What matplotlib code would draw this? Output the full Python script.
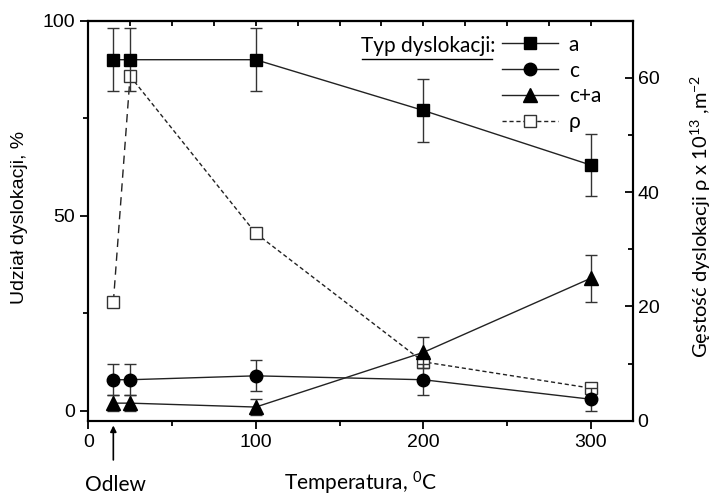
import matplotlib
matplotlib.use("Agg")
import matplotlib.pyplot as plt
from matplotlib.lines import Line2D
from matplotlib.ticker import MultipleLocator

temp = [15, 25, 100, 200, 300]

share_a = [90, 90, 90, 77, 63]
err_a = [8, 8, 8, 8, 8]
share_c = [8, 8, 9, 8, 3]
err_c = [4, 4, 4, 4, 3]
share_ca = [2, 2, 1, 15, 34]
err_ca = [2, 2, 2, 4, 6]
rho = [20.7, 60.3, 32.8, 10.3, 5.7]

label_font = "Lato"
tick_font = "Liberation Sans"

plt.rcParams["mathtext.fontset"] = "custom"
plt.rcParams["mathtext.rm"] = "Lato"
plt.rcParams["mathtext.it"] = "Lato:italic"

fig = plt.figure(figsize=(7.13, 4.97), dpi=100)
ax = fig.add_axes([0.1237, 0.1535, 0.7637, 0.8049])
ax2 = ax.twinx()
ax.set_zorder(2)
ax.patch.set_visible(False)

ms = 8
ax.errorbar(temp, share_a, yerr=err_a, fmt="none", ecolor="#333333", elinewidth=1, capsize=4)
ax.errorbar(temp, share_c, yerr=err_c, fmt="none", ecolor="#333333", elinewidth=1, capsize=4)
ax.errorbar(temp, share_ca, yerr=err_ca, fmt="none", ecolor="#333333", elinewidth=1, capsize=4)
la, = ax.plot(temp, share_a, "-", color="#222222", lw=1, marker="s", ms=ms, mfc="black", mec="black")
lc, = ax.plot(temp, share_c, "-", color="#222222", lw=1, marker="o", ms=ms + 1, mfc="black", mec="black")
lca, = ax.plot(temp, share_ca, "-", color="#222222", lw=1, marker="^", ms=ms + 2, mfc="black", mec="black")
# first segment (cast -> 25 C) drawn with longer dashes, as in the original
ax2.plot(temp[:2], rho[:2], color="#222222", lw=1, dashes=(6, 4))
lr, = ax2.plot(temp[1:], rho[1:], color="#222222", lw=1, dashes=(3, 2), marker="s", ms=ms,
               mfc="white", mec="#333333", mew=1)
ax2.plot(temp[:1], rho[:1], ls="none", marker="s", ms=ms, mfc="white", mec="#333333", mew=1)

ax.set_xlim(0, 325)
ax.set_ylim(-2.5, 100)
ax2.set_ylim(0, 70)

ax.xaxis.set_major_locator(MultipleLocator(100))
ax.xaxis.set_minor_locator(MultipleLocator(50))
ax.yaxis.set_major_locator(MultipleLocator(50))
ax.yaxis.set_minor_locator(MultipleLocator(25))
ax2.yaxis.set_major_locator(MultipleLocator(20))
ax2.yaxis.set_minor_locator(MultipleLocator(10))

ax.tick_params(axis="both", which="major", direction="out", length=6, width=1.3,
               labelsize=14, top=False, right=False)
ax.tick_params(axis="both", which="minor", direction="out", length=3.5, width=1.3,
               top=False, right=False)
ax2.tick_params(axis="y", which="major", direction="in", length=6, width=1.3, labelsize=14)
ax2.tick_params(axis="y", which="minor", direction="in", length=3.5, width=1.3)

top = ax.secondary_xaxis("top")
top.xaxis.set_major_locator(MultipleLocator(25))
top.tick_params(direction="in", length=3.5, width=1.3, labeltop=False)

for a in (ax, ax2):
    for s in a.spines.values():
        s.set_linewidth(1.5)
for s in top.spines.values():
    s.set_linewidth(1.5)

for lab in ax.get_xticklabels() + ax.get_yticklabels() + ax2.get_yticklabels():
    lab.set_fontfamily(tick_font)

ax.set_ylabel("Udział dyslokacji, %", fontsize=14, family=tick_font, va="center")
ax.yaxis.set_label_coords(-0.127, 0.507)
ax2.set_ylabel("Gęstość dyslokacji ρ x 10$^{13}$ ,m$^{-2}$", fontsize=14.5, family=label_font,
               va="center")
ax2.yaxis.set_label_coords(1.125, 0.51)
ax.set_xlabel("Temperatura, $^0$C", fontsize=15, family=label_font, va="baseline")
ax.xaxis.set_label_coords(0.5, -0.175)

ax.annotate("", xy=(15, -0.005), xycoords=("data", "axes fraction"),
            xytext=(15, -0.105), textcoords=("data", "axes fraction"),
            arrowprops=dict(arrowstyle="-|>", color="black", lw=1.2, mutation_scale=9),
            annotation_clip=False)
ax.text(16, -0.175, "Odlew", transform=ax.get_xaxis_transform(), ha="center", va="baseline",
        fontsize=15, family=label_font)

leg = ax.legend([la, lc, lca, lr], ["a", "c", "c+a", "ρ"], loc="upper left",
                bbox_to_anchor=(0.76, 0.965), frameon=False, borderaxespad=0, borderpad=0,
                handlelength=2.7, handletextpad=0.5, labelspacing=0.28,
                prop={"family": label_font, "size": 15})
ax.text(0.501, 0.936, "Typ dyslokacji:", transform=ax.transAxes, ha="left", va="center",
        fontsize=15, family=label_font)
ax.add_line(Line2D([0.503, 0.742], [0.905, 0.905], transform=ax.transAxes,
                   color="black", lw=1))

fig.savefig("out.png", dpi=100)
